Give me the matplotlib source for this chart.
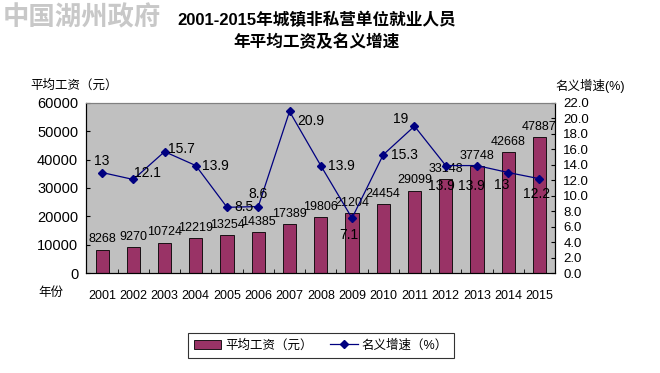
import matplotlib.pyplot as plt
from matplotlib.patches import Patch
from matplotlib.lines import Line2D

plt.rcParams["font.family"] = ["Liberation Sans", "Noto Sans CJK SC", "DejaVu Sans"]

years = ["2001", "2002", "2003", "2004", "2005", "2006", "2007", "2008",
         "2009", "2010", "2011", "2012", "2013", "2014", "2015"]
wages = [8268, 9270, 10724, 12219, 13254, 14385, 17389, 19806,
         21204, 24454, 29099, 33148, 37748, 42668, 47887]
growth = [13, 12.1, 15.7, 13.9, 8.5, 8.6, 20.9, 13.9,
          7.1, 15.3, 19, 13.9, 13.9, 13, 12.2]

# label offsets (points) for growth labels, picked to mimic the original
growth_offsets = [(0, 8), (10, 5), (12, 2), (14, 0), (12, 0), (0, 9), (15, -7), (15, 0),
                  (-2, -12), (15, 0), (-10, 5), (-3, -15), (-4, -15), (-5, -9), (-2, -11)]

bar_color = "#993366"
line_color = "#000080"

fig = plt.figure(figsize=(6.6, 3.73), dpi=100)
ax = fig.add_axes([0.131, 0.268, 0.710, 0.456])
ax.set_facecolor("#c0c0c0")

x = range(len(years))
ax.bar(x, wages, width=0.42, color=bar_color, edgecolor="black", linewidth=0.6, zorder=2)
for i, v in enumerate(wages):
    ax.annotate(str(v), (i, v), xytext=(0, 3), textcoords="offset points",
                ha="center", va="bottom", fontsize=9, zorder=5)

ax.set_xlim(-0.5, len(years) - 0.5)
ax.set_ylim(0, 60000)
ax.set_yticks(range(0, 60001, 10000))
ax.set_xticks(list(x))
ax.set_xticklabels(years, fontsize=9)
ax.set_xticks([i + 0.5 for i in range(len(years) - 1)], minor=True)
ax.tick_params(axis="x", which="major", length=0, pad=12)
ax.tick_params(axis="x", which="minor", direction="in", length=3, color="black")
ax.tick_params(axis="y", direction="in", length=3, labelsize=10.5, pad=6)

for side in ["left", "bottom"]:
    ax.spines[side].set_color("black")
    ax.spines[side].set_linewidth(0.8)
ax.spines["top"].set_color("#808080")
ax.spines["right"].set_color("black")

ax2 = ax.twinx()
ax2.plot(list(x), growth, color=line_color, marker="D", markersize=4, linewidth=0.9, zorder=4)
for i, v in enumerate(growth):
    dx, dy = growth_offsets[i]
    ax2.annotate(f"{v:g}", (i, v), xytext=(dx, dy), textcoords="offset points",
                 ha="center", va="center", fontsize=10, zorder=5)
ax2.set_ylim(0, 22)
ax2.set_yticks([i * 2.0 for i in range(12)])
ax2.set_yticklabels([f"{i * 2.0:.1f}" for i in range(12)])
ax2.tick_params(axis="y", direction="in", length=3, labelsize=9.5, pad=6)
ax2.spines["right"].set_color("black")
ax2.spines["top"].set_color("#808080")

fig.text(0.48, 0.946, "2001-2015年城镇非私营单位就业人员", ha="center", va="center",
         fontsize=12, fontweight="bold")
fig.text(0.48, 0.887, "年平均工资及名义增速", ha="center", va="center",
         fontsize=12, fontweight="bold")
fig.text(0.004, 0.952, "中国湖州政府", ha="left", va="center", fontsize=19,
         fontweight="bold", color="#c8c8c8")

fig.text(0.112, 0.770, "平均工资（元）", ha="center", va="center", fontsize=9)
fig.text(0.894, 0.770, "名义增速(%)", ha="center", va="center", fontsize=9)
fig.text(0.077, 0.214, "年份", ha="center", va="center", fontsize=9)

handles = [Patch(facecolor=bar_color, edgecolor="black", linewidth=0.6),
           Line2D([], [], color=line_color, marker="D", markersize=4, linewidth=0.9)]
leg = fig.legend(handles, ["平均工资（元）", "名义增速（%）"], loc="center",
                 bbox_to_anchor=(0.486, 0.074), ncol=2, fontsize=9, frameon=True,
                 fancybox=False, edgecolor="black", handlelength=2.2,
                 handletextpad=0.3, columnspacing=1.4, borderpad=0.5)
leg.get_frame().set_linewidth(0.8)

fig.savefig("out.png", dpi=100)
